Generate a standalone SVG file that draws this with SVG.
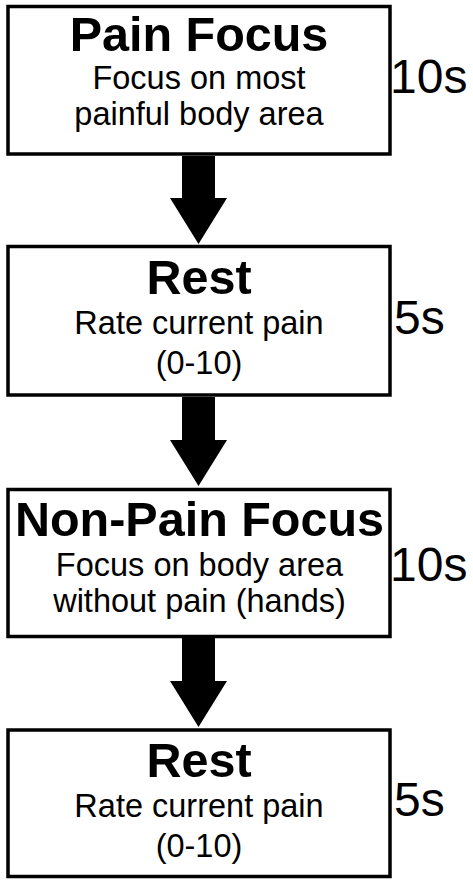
<svg xmlns="http://www.w3.org/2000/svg" width="473" height="885" viewBox="0 0 473 885">
<style>
.box{fill:#fff;stroke:#000;stroke-width:3.5}
.t{font-family:"Liberation Sans",Arial,sans-serif;font-weight:bold;font-size:48.5px;text-anchor:middle;fill:#000}
.s{font-family:"Liberation Sans",Arial,sans-serif;font-size:32.5px;text-anchor:middle;fill:#000}
.d{font-family:"Liberation Sans",Arial,sans-serif;font-size:48px;fill:#000}
.arrow{fill:#000}
</style>
<rect width="473" height="885" fill="#fff"/>
<g id="connectors">
<polygon class="arrow" points="182,156 215,156 215,198 227,198 198.5,244 170,198 182,198"/>
<polygon class="arrow" points="182,397 215,397 215,440 227,440 198.5,486 170,440 182,440"/>
<polygon class="arrow" points="182,638 215,638 215,681 227,681 198.5,727 170,681 182,681"/>
</g>
<g id="pain-focus">
<rect class="box" x="8" y="6.5" width="382" height="147.5"/>
<text class="t" x="199" y="50.5">Pain Focus</text>
<text class="s" x="199" y="89">Focus on most</text>
<text class="s" x="199" y="125">painful body area</text>
<text class="d" x="390" y="92.5">10s</text>
</g>
<g id="rest-1">
<rect class="box" x="8" y="246.5" width="382" height="148.5"/>
<text class="t" x="199" y="294">Rest</text>
<text class="s" x="199" y="334">Rate current pain</text>
<text class="s" x="199" y="374">(0-10)</text>
<text class="d" x="394" y="334">5s</text>
</g>
<g id="non-pain-focus">
<rect class="box" x="8" y="489.5" width="382" height="147"/>
<text class="t" x="199.5" y="536">Non-Pain Focus</text>
<text class="s" x="199.5" y="576">Focus on body area</text>
<text class="s" x="199.5" y="611.5">without pain (hands)</text>
<text class="d" x="390" y="580.5">10s</text>
</g>
<g id="rest-2">
<rect class="box" x="8" y="730" width="382" height="146.5"/>
<text class="t" x="199" y="777">Rest</text>
<text class="s" x="199" y="817">Rate current pain</text>
<text class="s" x="199" y="857">(0-10)</text>
<text class="d" x="394" y="816">5s</text>
</g>
</svg>
